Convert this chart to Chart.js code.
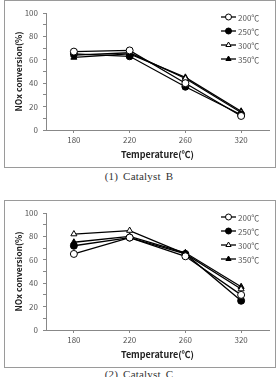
<!DOCTYPE html>
<html>
<head>
<meta charset="utf-8">
<script src="https://cdn.jsdelivr.net/npm/chart.js@4"></script>
<style>
  body { margin: 0; width: 278px; height: 377px; background: #fff; position: relative; overflow: hidden; }
  .panel { position: absolute; left: 4px; width: 270px; height: 166px; border: 1px solid #9a9a9a; }
  .panel canvas { display: block; }
  .cap { position: absolute; left: 0; width: 278px; text-align: center; font-family: "Liberation Serif", "DejaVu Serif", serif; font-size: 11px; color: #333; word-spacing: 2px; letter-spacing: 0.2px; }
</style>
</head>
<body>
<div class="panel" style="top:0px"><canvas id="chartB" width="270" height="166"></canvas></div>
<div class="cap" style="top:170px">(1) Catalyst B</div>
<div class="panel" style="top:200px"><canvas id="chartC" width="270" height="166"></canvas></div>
<div class="cap" style="top:368px">(2) Catalyst C</div>
<script>
// 데이터
var temps = ['180', '220', '260', '320'];
var seriesNames = ['200℃', '250℃', '300℃', '350℃'];
var yTicks = [0, 10, 20, 30, 40, 50, 60, 70, 80, 90, 100];   // 20 단위만 라벨 표시

var catB_200 = [67, 68, 40, 12];
var catB_250 = [65, 63, 37, 13];
var catB_300 = [64, 66, 44, 15];
var catB_350 = [62, 65, 45, 16];

var catC_200 = [65, 79, 63, 30];
var catC_250 = [72, 79, 65, 25];
var catC_300 = [82, 85, 65, 35];
var catC_350 = [75, 80, 66, 37];

var markers = [
  { style: 'circle', fill: '#fff' },
  { style: 'circle', fill: '#000' },
  { style: 'triangle', fill: '#fff' },
  { style: 'triangle', fill: '#000' }
];

var fontFam = "'Noto Sans CJK KR', 'DejaVu Sans', sans-serif";

// 범례를 차트 안쪽 오른쪽 위에 그림
var innerLegend = {
  id: 'innerLegend',
  afterDraw: function (chart) {
    var ctx = chart.ctx;
    var area = chart.chartArea;
    ctx.save();
    chart.data.datasets.forEach(function (ds, i) {
      var y = area.top + 4 + i * 14;
      var x0 = area.right - 48;
      ctx.strokeStyle = '#000';
      ctx.lineWidth = 1.3;
      ctx.beginPath();
      ctx.moveTo(x0, y);
      ctx.lineTo(x0 + 15, y);
      ctx.stroke();
      ctx.fillStyle = ds.pointBackgroundColor;
      ctx.strokeStyle = '#000';
      ctx.lineWidth = 1;
      Chart.helpers.drawPoint(ctx, { pointStyle: ds.pointStyle, radius: 3, rotation: 0, borderWidth: 1 }, x0 + 7.5, y);
      ctx.fillStyle = '#555';
      ctx.font = '8px ' + fontFam;
      ctx.textBaseline = 'middle';
      ctx.textAlign = 'left';
      ctx.fillText(ds.label, x0 + 17, y + 0.5);
    });
    ctx.restore();
  }
};

function makeChart(id, values) {
  var datasets = values.map(function (v, i) {
    return {
      label: seriesNames[i],
      data: v,
      borderColor: '#000',
      borderWidth: 1.3,
      pointStyle: markers[i].style,
      pointRadius: 3.5,
      pointBorderWidth: 1,
      pointBorderColor: '#000',
      pointBackgroundColor: markers[i].fill,
      tension: 0
    };
  });
  return new Chart(document.getElementById(id), {
    type: 'line',
    data: { labels: temps, datasets: datasets },
    options: {
      responsive: false,
      animation: false,
      layout: { padding: { left: 5, right: 6, top: 12, bottom: 0 } },
      plugins: { legend: { display: false }, tooltip: { enabled: false } },
      scales: {
        x: {
          offset: true,
          grid: { offset: false, drawOnChartArea: false, tickLength: 3, color: '#888' },
          border: { color: '#888' },
          ticks: { color: '#555', font: { size: 8, family: fontFam }, padding: 2, maxRotation: 0 },
          title: { display: true, text: 'Temperature(℃)', color: '#222', font: { size: 9, weight: 'bold', family: fontFam }, padding: { top: 0, bottom: 7 } },
          afterFit: function (s) { s.height = 37; }
        },
        y: {
          min: 0,
          max: 100,
          grid: { drawOnChartArea: false, tickLength: 3, color: '#888' },
          border: { color: '#888' },
          afterBuildTicks: function (s) { s.ticks = yTicks.map(function (v) { return { value: v }; }); },
          ticks: {
            color: '#555', font: { size: 8, family: fontFam }, padding: 5, autoSkip: false,
            callback: function (v) { return v % 20 === 0 ? v : ''; }
          },
          title: { display: true, text: 'NOx conversion(%)', color: '#222', font: { size: 8.5, weight: 'bold', family: fontFam }, padding: { top: 4, bottom: 2 } },
          afterFit: function (s) { s.width = 36; }
        }
      }
    },
    plugins: [innerLegend]
  });
}

makeChart('chartB', [catB_200, catB_250, catB_300, catB_350]);
makeChart('chartC', [catC_200, catC_250, catC_300, catC_350]);
</script>
</body>
</html>
